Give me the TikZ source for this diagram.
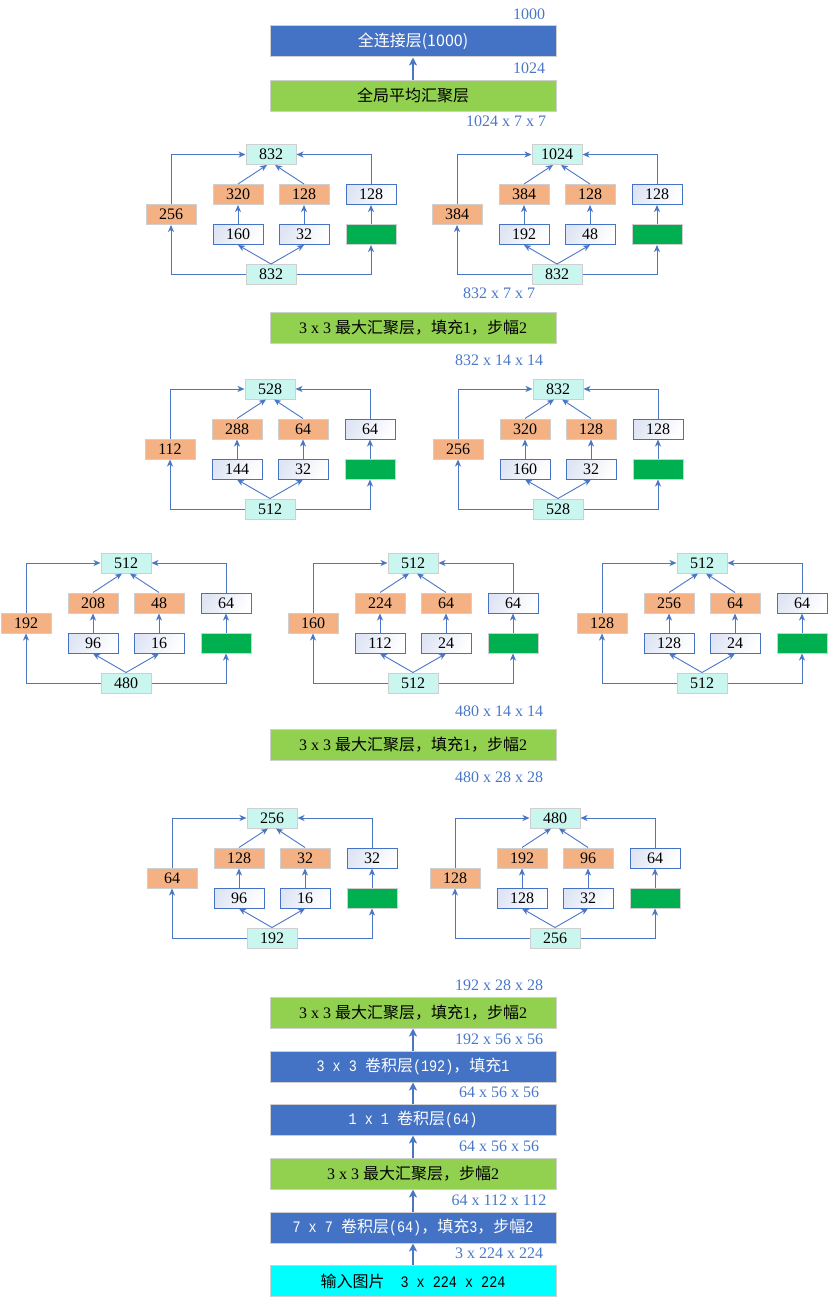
\documentclass[tikz,border=0pt]{standalone}
\usepackage{fontspec}
\setmainfont{Liberation Serif}
\setmonofont[FakeStretch=0.84]{Liberation Mono}
\newfontfamily\zhfont{Noto Sans CJK SC}
\newcommand\zh[1]{{\zhfont #1}}
\usetikzlibrary{arrows.meta}

\definecolor{barblue}{HTML}{4472C4}
\definecolor{bargreen}{HTML}{92D050}
\definecolor{barcyan}{HTML}{00FFFF}
\definecolor{ioteal}{HTML}{C9F6EE}
\definecolor{orfill}{HTML}{F4B183}
\definecolor{poolgreen}{HTML}{00B050}
\definecolor{edgegrey}{HTML}{CFCFCF}
\definecolor{wshade}{HTML}{DFE5F4}
\definecolor{lineblue}{HTML}{4A76C6}
\definecolor{labblue}{HTML}{4A78C8}

\begin{document}
\begin{tikzpicture}[x=1pt,y=-1pt,
  bar/.style={minimum width=286pt, minimum height=31pt, inner sep=0pt,
    draw=edgegrey, line width=1pt, font=\fontsize{16}{16}\selectfont},
  bluebar/.style={bar, fill=barblue, text=white},
  greenbar/.style={bar, fill=bargreen, text=black},
  cyanbar/.style={bar, fill=barcyan, text=black},
  sbox/.style={minimum width=50pt, minimum height=20pt, inner sep=0pt,
    line width=1pt, font=\fontsize{16}{16}\selectfont},
  ionode/.style={sbox, fill=ioteal, draw=edgegrey},
  orbox/.style={sbox, fill=orfill, draw=edgegrey},
  wbox/.style={sbox, draw=barblue, shading=axis, left color=wshade,
    right color=white, shading angle=60},
  gbox/.style={sbox, fill=poolgreen, draw=edgegrey},
  conn/.style={draw=lineblue, line width=0.9pt,
    -{Stealth[length=7pt, width=6pt, inset=2pt]}},
  bararrow/.style={draw=lineblue, line width=1.8pt,
    -{Stealth[length=8pt, width=8pt, inset=2pt]}},
  lab/.style={text=labblue, inner sep=0pt, font=\fontsize{16}{16}\selectfont}]

\useasboundingbox (0,0) rectangle (828,1298);

% ---- top: classifier ----
\node[bluebar] (fc) at (413,41.5) {\zh{全连接层(1000)}};
\node[greenbar] (gap) at (413,95.5) {\zh{全局平均汇聚层}};
\draw[bararrow] (gap.north) -- (fc.south);
\node[lab] (l1000) at (529,14) {1000};
\node[lab] (l1024) at (529,68) {1024};
\node[lab] (l1024b) at (506,121) {1024 x 7 x 7};

% ---- pooling bars between inception stages ----
\node[lab] (l832a) at (499,293) {832 x 7 x 7};
\node[greenbar] (pool1) at (413,327.5) {3 x 3 \zh{最大汇聚层，填充}1\zh{，步幅}2};
\node[lab] (l832b) at (499,360) {832 x 14 x 14};

\node[lab] (l480a) at (499,711) {480 x 14 x 14};
\node[greenbar] (pool2) at (413,744.5) {3 x 3 \zh{最大汇聚层，填充}1\zh{，步幅}2};
\node[lab] (l480b) at (499,777) {480 x 28 x 28};

% ---- inception blocks ----
\foreach \p/\cx/\y/\o/\i/\l/\a/\b/\w/\c/\d in {
  A/271/154.5/832/832/256/320/128/128/160/32,
  B/557/154.5/1024/832/384/384/128/128/192/48,
  C/270/389/528/512/112/288/64/64/144/32,
  D/558/389/832/528/256/320/128/128/160/32,
  E/126/563/512/480/192/208/48/64/96/16,
  F/413/563/512/512/160/224/64/64/112/24,
  G/702/563/512/512/128/256/64/64/128/24,
  H/272/818/256/192/64/128/32/32/96/16,
  I/555/818/480/256/128/192/96/64/128/32}{
  \node[ionode] (\p-out) at (\cx,\y) {\o};
  \node[ionode] (\p-in) at (\cx,\y+120) {\i};
  \node[orbox] (\p-l) at (\cx-100,\y+60) {\l};
  \node[orbox] (\p-a) at (\cx-33,\y+40) {\a};
  \node[orbox] (\p-b) at (\cx+33,\y+40) {\b};
  \node[wbox] (\p-w) at (\cx+100,\y+40) {\w};
  \node[wbox] (\p-c) at (\cx-33,\y+80) {\c};
  \node[wbox] (\p-d) at (\cx+33,\y+80) {\d};
  \node[gbox] (\p-g) at (\cx+100,\y+80) {};
  \draw[conn] (\p-in.west) -| (\p-l.south);
  \draw[conn] (\p-l.north) |- (\p-out.west);
  \draw[conn] (\p-in.east) -| (\p-g.south);
  \draw[conn] (\p-g.north) -- (\p-w.south);
  \draw[conn] (\p-w.north) |- (\p-out.east);
  \draw[conn] (\p-in.north) -- (\p-c.south);
  \draw[conn] (\p-in.north) -- (\p-d.south);
  \draw[conn] (\p-c.north) -- (\p-a.south);
  \draw[conn] (\p-d.north) -- (\p-b.south);
  \draw[conn] (\p-a.north) -- ([xshift=-4pt]\p-out.south);
  \draw[conn] (\p-b.north) -- ([xshift=4pt]\p-out.south);
}

% ---- stem ----
\node[lab] (l192a) at (499,985) {192 x 28 x 28};
\node[greenbar] (pool3) at (413,1012.5) {3 x 3 \zh{最大汇聚层，填充}1\zh{，步幅}2};
\node[lab] (l192b) at (499,1039) {192 x 56 x 56};
\node[bluebar] (conv3) at (413,1066.5) {\texttt{3 x 3 }\zh{卷积层}\texttt{(192)}\zh{，填充}\texttt{1}};
\node[lab] (l64a) at (499,1092) {64 x 56 x 56};
\node[bluebar] (conv1) at (413,1119.5) {\texttt{1 x 1 }\zh{卷积层}\texttt{(64)}};
\node[lab] (l64b) at (499,1146) {64 x 56 x 56};
\node[greenbar] (pool0) at (413,1173.5) {3 x 3 \zh{最大汇聚层，步幅}2};
\node[lab] (l64c) at (499,1200) {64 x 112 x 112};
\node[bluebar] (conv7) at (413,1227.5) {\texttt{7 x 7 }\zh{卷积层}\texttt{(64)}\zh{，填充}\texttt{3}\zh{，步幅}\texttt{2}};
\node[lab] (l3) at (499,1253) {3 x 224 x 224};
\node[cyanbar] (img) at (413,1281) {\zh{输入图片}\quad\texttt{3 x 224 x 224}};

\draw[bararrow] (img.north) -- (conv7.south);
\draw[bararrow] (conv7.north) -- (pool0.south);
\draw[bararrow] (pool0.north) -- (conv1.south);
\draw[bararrow] (conv1.north) -- (conv3.south);
\draw[bararrow] (conv3.north) -- (pool3.south);
\end{tikzpicture}
\end{document}
